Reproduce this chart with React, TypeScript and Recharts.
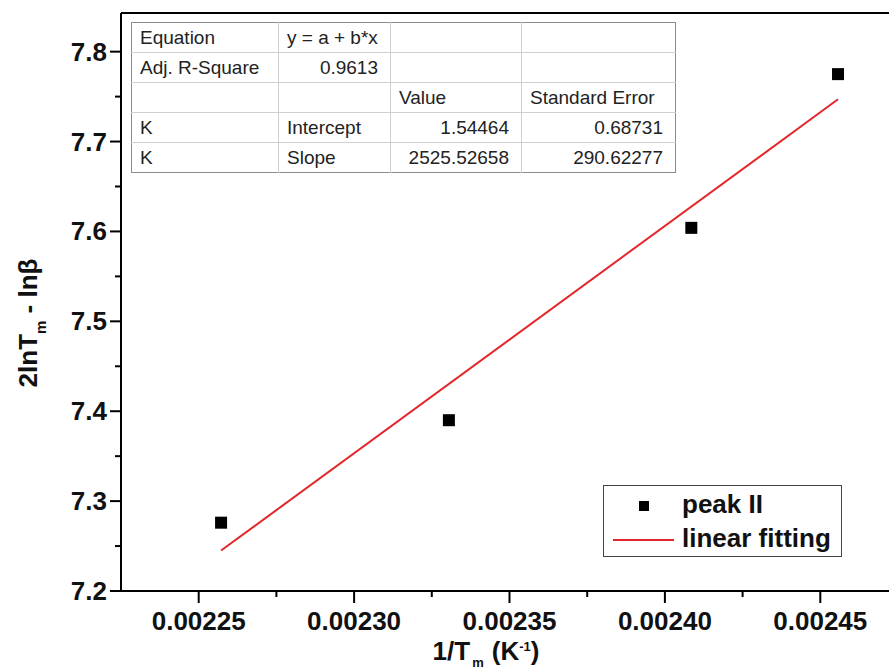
import React from "react";
import { ScatterChart, Scatter, XAxis, YAxis, ReferenceLine } from "recharts";

// measured points (1/Tm, 2lnTm - lnβ)
const INV_TM = [0.0022572, 0.0023305, 0.0024085, 0.0024557];
const PEAK_II = [7.276, 7.39, 7.604, 7.775];

// fitted line end points
const FIT_X = [0.0022572, 0.0024557];
const FIT_Y = [7.245, 7.747];

const X_MAJOR = [0.00225, 0.0023, 0.00235, 0.0024, 0.00245];
const X_MINOR = [0.002275, 0.002325, 0.002375, 0.002425];
const Y_MAJOR = [7.2, 7.3, 7.4, 7.5, 7.6, 7.7, 7.8];
const Y_MINOR = [7.25, 7.35, 7.45, 7.55, 7.65, 7.75];

const X_DOMAIN = [0.002225, 0.002475];
const Y_DOMAIN = [7.2, 7.843];

const TABLE_ROWS = [
  ["Equation", "y = a + b*x", "", ""],
  ["Adj. R-Square", "0.9613", "", ""],
  ["", "", "Value", "Standard Error"],
  ["K", "Intercept", "1.54464", "0.68731"],
  ["K", "Slope", "2525.52658", "290.62277"],
];

const peakData = INV_TM.map((x, i) => ({ x, y: PEAK_II[i] }));
const fitData = FIT_X.map((x, i) => ({ x, y: FIT_Y[i] }));

const FONT = "'Liberation Sans', Arial, sans-serif";
const RED = "#e3262b";

// chart box
const W = 910;
const H = 670;
const TOP = 13;
const AXIS_LEFT = 121;
const AXIS_H = 79;
const PLOT_BOTTOM = H - AXIS_H;

const isMajor = (list: number[], v: number) => list.some((m) => Math.abs(m - v) < 1e-9);

const XTick = (props: any) => {
  const { x, payload } = props;
  const y = PLOT_BOTTOM;
  const major = isMajor(X_MAJOR, payload.value);
  return (
    <g>
      <line x1={x} x2={x} y1={y} y2={y + (major ? 12 : 6)} stroke="#000" strokeWidth={2} />
      {major && (
        <text x={x} y={y + 39} textAnchor="middle" fontFamily={FONT} fontWeight="bold" fontSize={26} fill="#111">
          {payload.value.toFixed(5)}
        </text>
      )}
    </g>
  );
};

const YTick = (props: any) => {
  const { y, payload } = props;
  const x = AXIS_LEFT;
  const major = isMajor(Y_MAJOR, payload.value);
  return (
    <g>
      <line x1={x} x2={x - (major ? 11 : 6)} y1={y} y2={y} stroke="#000" strokeWidth={2} />
      {major && (
        <text x={x - 14} y={y + 9} textAnchor="end" fontFamily={FONT} fontWeight="bold" fontSize={26} fill="#111">
          {payload.value.toFixed(1)}
        </text>
      )}
    </g>
  );
};

const Square = (props: any) => {
  const { cx, cy } = props;
  return <rect x={cx - 6} y={cy - 6} width={12} height={12} fill="#000" />;
};

const cellStyle = (ci: number, ri: number): React.CSSProperties => {
  const right = (ci === 1 && ri === 1) || (ri >= 3 && ci >= 2);
  return {
    borderRight: ci < 3 ? "1px solid #cfcfcf" : "none",
    borderBottom: ri < 4 ? "1px solid #cfcfcf" : "none",
    padding: right ? "0 12px 0 8px" : "0 8px",
    textAlign: right ? "right" : "left",
    height: 29,
    lineHeight: "26px",
    whiteSpace: "nowrap",
  };
};

export default function App() {
  return (
    <div style={{ position: "fixed", left: 0, top: 0, width: 889, height: 670, overflow: "hidden", background: "#fff" }}>
      <ScatterChart width={W} height={H} margin={{ top: TOP, right: 12, left: 0, bottom: 0 }}>
        <XAxis
          type="number"
          dataKey="x"
          domain={X_DOMAIN}
          allowDataOverflow
          ticks={[...X_MAJOR, ...X_MINOR]}
          interval={0}
          tickLine={false}
          tick={<XTick />}
          axisLine={{ stroke: "#000", strokeWidth: 2 }}
          height={AXIS_H}
          label={{
            content: () => (
              <text x={486} y={660} textAnchor="middle" fontFamily={FONT} fontWeight="bold" fontSize={26} fill="#111">
                <tspan>1/T</tspan>
                <tspan dy={7} dx={2} fontSize={13}>m</tspan>
                <tspan dy={-7} dx={8}>(K</tspan>
                <tspan dy={-9} fontSize={13}>-1</tspan>
                <tspan dy={9}>)</tspan>
              </text>
            ),
          }}
        />
        <YAxis
          type="number"
          dataKey="y"
          domain={Y_DOMAIN}
          allowDataOverflow
          ticks={[...Y_MAJOR, ...Y_MINOR]}
          interval={0}
          tickLine={false}
          tick={<YTick />}
          axisLine={{ stroke: "#000", strokeWidth: 2 }}
          width={AXIS_LEFT}
          label={{
            content: () => (
              <text
                x={37}
                y={323}
                transform="rotate(-90 37 323)"
                textAnchor="middle"
                fontFamily={FONT}
                fontWeight="bold"
                fontSize={26}
                fill="#111"
              >
                <tspan>2lnT</tspan>
                <tspan dy={9} fontSize={15}>m</tspan>
                <tspan dy={-9}> - lnβ</tspan>
              </text>
            ),
          }}
        />
        <ReferenceLine y={Y_DOMAIN[1]} stroke="#000" strokeWidth={2} />
        <Scatter
          data={fitData}
          line={{ stroke: RED, strokeWidth: 2 }}
          shape={() => <g />}
          isAnimationActive={false}
        />
        <Scatter data={peakData} fill="#000" shape={<Square />} isAnimationActive={false} />
      </ScatterChart>

      <table
        style={{
          position: "absolute",
          left: 131,
          top: 22,
          width: 544,
          borderCollapse: "collapse",
          border: "1px solid #8c8c8c",
          background: "#fff",
          fontFamily: FONT,
          fontSize: 19,
          color: "#222",
          tableLayout: "fixed",
        }}
      >
        <colgroup>
          <col style={{ width: 147 }} />
          <col style={{ width: 112 }} />
          <col style={{ width: 131 }} />
          <col style={{ width: 154 }} />
        </colgroup>
        <tbody>
          {TABLE_ROWS.map((row, ri) => (
            <tr key={ri}>
              {row.map((c, ci) => (
                <td key={ci} style={cellStyle(ci, ri)}>
                  {c}
                </td>
              ))}
            </tr>
          ))}
        </tbody>
      </table>

      <div
        style={{
          position: "absolute",
          left: 603,
          top: 485,
          width: 237,
          height: 70,
          border: "1px solid #444",
          background: "#fff",
          fontFamily: FONT,
          fontWeight: "bold",
          fontSize: 26,
          color: "#111",
        }}
      >
        <div style={{ position: "absolute", left: 35, top: 15, width: 10, height: 10, background: "#000" }} />
        <div style={{ position: "absolute", left: 78, top: 3, lineHeight: "30px" }}>peak II</div>
        <div style={{ position: "absolute", left: 9, top: 53, width: 61, height: 2, background: RED }} />
        <div style={{ position: "absolute", left: 78, top: 37, lineHeight: "30px" }}>linear fitting</div>
      </div>
    </div>
  );
}
